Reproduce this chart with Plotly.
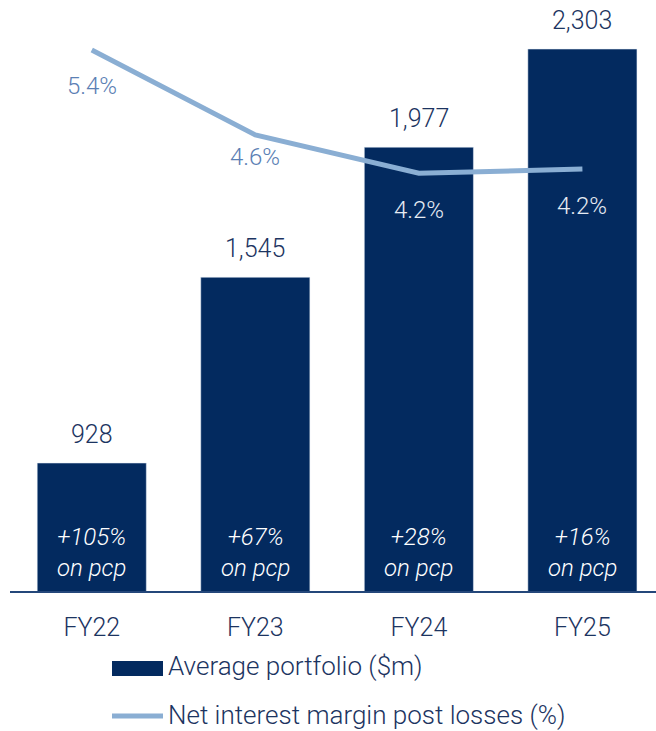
import plotly.graph_objects as go

years = ["FY22", "FY23", "FY24", "FY25"]
portfolio = [928, 1545, 1977, 2303]
portfolio_labels = ["928", "1,545", "1,977", "2,303"]
growth = ["+105%", "+67%", "+28%", "+16%"]
nim = [5.4, 4.6, 4.24, 4.28]
nim_labels = ["5.4%", "4.6%", "4.2%", "4.2%"]

NAVY = "#032a5f"
LIGHT = "#8aaed3"
TEXT = "#1c3461"
FONT = "Roboto"
W = 300  # light weight

fig = go.Figure()

fig.add_trace(go.Bar(
    x=years, y=portfolio, width=0.667,
    marker_color=NAVY, name="Average portfolio ($m)",
    showlegend=False, hoverinfo="skip"
))

fig.add_trace(go.Scatter(
    x=years, y=nim, yaxis="y2", mode="lines",
    line=dict(color=LIGHT, width=5),
    name="Net interest margin post losses (%)",
    showlegend=False, hoverinfo="skip"
))

# value labels above bars
for yr, v, lab in zip(years, portfolio, portfolio_labels):
    fig.add_annotation(x=yr, y=v, text=lab, showarrow=False, yshift=29,
                       font=dict(size=25, color=TEXT, family=FONT, weight=W))

# growth text inside bars
for yr, g in zip(years, growth):
    fig.add_annotation(x=yr, y=0, yref="paper", yanchor="middle", yshift=39,
                       showarrow=False, text="<i>%s<br>on pcp</i>" % g,
                       font=dict(size=24, color="white", family=FONT, weight=W))

# NIM labels
nim_shift = [-36, -22, -37, -37]
nim_colors = ["#5b80b4", "#5b80b4", "#e6ebf3", "#e6ebf3"]
for yr, v, lab, s, c in zip(years, nim, nim_labels, nim_shift, nim_colors):
    fig.add_annotation(x=yr, y=v, yref="y2", text=lab, showarrow=False,
                       yshift=s, font=dict(size=24, color=c, family=FONT, weight=W))

# legend drawn by hand
fig.add_shape(type="rect", xref="paper", yref="paper",
              x0=(112 - 10) / 646, x1=(163 - 10) / 646,
              y0=-(661 - 591) / 591, y1=-(676 - 591) / 591,
              fillcolor=NAVY, line_width=0)
fig.add_shape(type="line", xref="paper", yref="paper",
              x0=(112 - 10) / 646, x1=(163 - 10) / 646,
              y0=-(716 - 591) / 591, y1=-(716 - 591) / 591,
              line=dict(color=LIGHT, width=5))
fig.add_annotation(xref="paper", yref="paper", x=(166 - 10) / 646,
                   y=-(666 - 591) / 591, xanchor="left", yanchor="middle",
                   showarrow=False, text="Average portfolio ($m)",
                   font=dict(size=26, color=TEXT, family=FONT, weight=W))
fig.add_annotation(xref="paper", yref="paper", x=(166 - 10) / 646,
                   y=-(715 - 591) / 591, xanchor="left", yanchor="middle",
                   showarrow=False, text="Net interest margin post losses (%)",
                   font=dict(size=26, color=TEXT, family=FONT, weight=W))

fig.update_layout(
    width=656, height=731,
    margin=dict(l=10, r=0, t=0, b=140),
    plot_bgcolor="white", paper_bgcolor="white",
    font=dict(family=FONT, color=TEXT),
    xaxis=dict(range=[-0.5, 3.45], showline=True, linecolor="#24477a",
               linewidth=2, ticks="outside", ticklen=13,
               tickcolor="rgba(0,0,0,0)", showgrid=False,
               tickfont=dict(size=25, color=TEXT, family=FONT, weight=W)),
    yaxis=dict(range=[503, 2466], visible=False, showgrid=False),
    yaxis2=dict(range=[0.31, 5.87], overlaying="y", visible=False,
                showgrid=False),
    showlegend=False
)

fig.write_html("out.html", config={"displayModeBar": False},
               post_script="document.body.style.margin='0';")
